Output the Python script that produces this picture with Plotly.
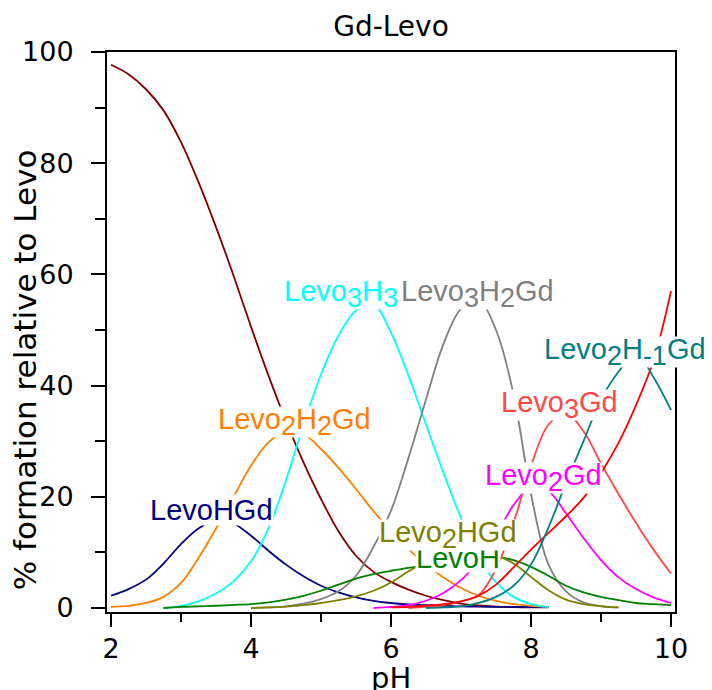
import plotly.graph_objects as go

N = None
ph = [2.0, 2.25, 2.5, 2.75, 3.0, 3.25, 3.5, 3.75, 4.0, 4.25, 4.5, 4.75, 5.0, 5.25, 5.5, 5.75,
      6.0, 6.25, 6.5, 6.75, 7.0, 7.25, 7.5, 7.75, 8.0, 8.25, 8.5, 8.75, 9.0, 9.25, 9.5, 9.75, 10.0]

levo_free = [97.7, 96.0, 93.3, 89.5, 83.8, 76.6, 68.5, 59.8, 50.6, 41.8, 33.6, 26.2, 19.6, 13.8, 9.4, 6.5,
             4.7, 3.3, 2.2, 1.4, 0.8, 0.45, 0.25, 0.15, 0.1, 0.1, N, N, N, N, N, N, N]
levo_hgd = [2.2, 3.4, 5.1, 8.0, 11.5, 14.3, 15.8, 15.2, 13.0, 10.3, 7.8, 5.7, 4.0, 2.8, 1.9, 1.3,
            0.9, 0.65, 0.5, 0.4, 0.3, 0.25, 0.2, 0.2, 0.15, 0.15, N, N, N, N, N, N, N]
levo2h2gd = [0.2, 0.4, 0.9, 2.0, 4.5, 9.0, 14.3, 20.0, 25.6, 29.8, 31.7, 31.3, 28.6, 25.2, 21.4, 17.4,
             13.8, 10.6, 7.8, 5.5, 3.6, 2.2, 1.3, 0.7, 0.4, 0.2, N, N, N, N, N, N, N]
levo3h3 = [N, N, N, 0.0, 0.4, 1.2, 2.6, 4.8, 8.4, 14.3, 23.0, 33.0, 42.0, 49.0, 53.5, 54.6,
           49.5, 41.8, 33.0, 24.3, 16.2, 9.3, 4.6, 2.0, 0.7, 0.2, N, N, N, N, N, N, N]
levo3h2gd = [N, N, N, N, N, N, N, N, 0.0, 0.1, 0.3, 0.8, 1.6, 3.0, 5.8, 11.0,
             17.5, 27.0, 37.5, 47.5, 53.8, 55.3, 50.0, 38.5, 20.5, 7.8, 3.0, 1.0, 0.3, 0.1, N, N, N]
levoh = [N, N, N, 0.0, 0.2, 0.3, 0.4, 0.55, 0.7, 1.0, 1.5, 2.2, 3.1, 4.2, 5.3, 6.1,
         6.7, 7.2, 7.8, 8.3, 8.7, 9.0, 9.2, 8.6, 7.4, 5.8, 4.0, 2.8, 2.0, 1.4, 0.9, 0.7, 0.5]
levo2hgd = [N, N, N, N, N, N, N, N, 0.0, 0.1, 0.25, 0.5, 0.9, 1.4, 2.1, 3.1,
            4.6, 6.6, 8.3, 9.3, 9.7, 9.8, 9.4, 8.0, 5.6, 3.2, 1.5, 0.7, 0.35, 0.1, N, N, N]
levo2gd = [N, N, N, N, N, N, N, N, N, N, N, N, N, N, N, 0.0,
           0.2, 0.5, 1.3, 2.7, 5.0, 8.5, 13.0, 18.5, 21.8, 21.0, 17.0, 12.6, 8.6, 5.5, 3.4, 1.9, 0.9]
levo3gd = [N, N, N, N, N, N, N, N, N, N, N, N, N, N, N, N,
           N, 0.0, 0.2, 0.5, 1.2, 2.3, 7.0, 15.3, 25.5, 33.0, 35.0, 31.8, 26.0, 20.5, 15.3, 10.5, 6.2]
gd_oh = [N, N, N, N, N, N, N, N, N, N, N, N, N, N, N, N,
         0.1, 0.2, 0.4, 0.7, 1.2, 2.2, 4.2, 7.3, 10.5, 13.5, 16.5, 19.8, 24.3, 29.7, 36.5, 44.5, 57.0]
levo2hm1gd = [N, N, N, N, N, N, N, N, N, N, N, N, N, N, N, N,
              N, N, 0.0, 0.1, 0.3, 0.9, 2.0, 4.0, 7.8, 14.5, 22.5, 30.0, 37.5, 42.5, 45.8, 41.5, 35.6]

series = [
    (levo_free, "#800000"),
    (levo_hgd, "#000080"),
    (levo2h2gd, "#FF8000"),
    (levo3h3, "#00FFFF"),
    (levo3h2gd, "#808080"),
    (levoh, "#008000"),
    (levo2hgd, "#808000"),
    (levo2gd, "#FF00FF"),
    (levo3gd, "#FF4848"),
    (gd_oh, "#FF0000"),
    (levo2hm1gd, "#008080"),
]

SUBSZ = 27


def sub(s):
    return '<sub><span style="font-size:%dpx">%s</span></sub>' % (SUBSZ, s)


# text, x (pH), y (%), colour, box height
labels = [
    ("LevoHGd", 3.43, 17.7, "#000080", 30),
    ("Levo" + sub("2") + "H" + sub("2") + "Gd", 4.62, 33.5, "#FF8000", 30),
    ("Levo" + sub("3") + "H" + sub("3"), 5.29, 56.4, "#00FFFF", 30),
    ("Levo" + sub("3") + "H" + sub("2") + "Gd", 7.24, 56.4, "#808080", 30),
    ("Levo" + sub("2") + "H" + sub("-1") + "Gd", 9.34, 46.0, "#008080", 30),
    ("Levo" + sub("3") + "Gd", 8.40, 36.5, "#FF4848", 30),
    ("Levo" + sub("2") + "Gd", 8.18, 23.3, "#FF00FF", 30),
    ("LevoH", 6.96, 9.0, "#008000", 28),
    ("Levo" + sub("2") + "HGd", 6.81, 13.2, "#808000", 30),
]

fig = go.Figure()
for vals, col in series:
    fig.add_trace(go.Scatter(x=ph, y=vals, mode="lines",
                             line=dict(color=col, width=1.8, shape="spline", smoothing=1.0),
                             connectgaps=False, showlegend=False, hoverinfo="skip"))

for txt, x, y, col, h in labels:
    fig.add_annotation(x=x, y=y, xref="x", yref="y", text=txt, showarrow=False,
                       font=dict(family="Liberation Sans, Arial, sans-serif", size=29, color=col),
                       bgcolor="white", borderpad=0, height=h, valign="middle",
                       xanchor="center", yanchor="middle")

axis_font = dict(family="DejaVu Sans, sans-serif", size=27, color="black")

fig.add_annotation(text="% formation relative to Levo", xref="paper", yref="paper",
                   x=-0.144, y=0.432, textangle=-90, showarrow=False,
                   font=dict(family="DejaVu Sans, sans-serif", size=31, color="black"),
                   xanchor="center", yanchor="middle")
fig.add_annotation(text="pH", xref="paper", yref="paper",
                   x=0.5, y=-0.118, showarrow=False,
                   font=dict(family="DejaVu Sans, sans-serif", size=29, color="black"),
                   xanchor="center", yanchor="middle")

fig.update_layout(
    width=712, height=690,
    margin=dict(l=99, r=45, t=44, b=86),
    paper_bgcolor="white", plot_bgcolor="white",
    title=dict(text="Gd-Levo", x=0.5, xref="paper", xanchor="center",
               y=1 - 18 / 690, yanchor="middle",
               font=dict(family="DejaVu Sans, sans-serif", size=28, color="black")),
    xaxis=dict(range=[1.943, 10.057], tickvals=[2, 4, 6, 8, 10], ticks="outside",
               ticklen=13, tickwidth=2, tickcolor="black", showline=True, linewidth=2,
               linecolor="black", mirror=True, showgrid=False, zeroline=False,
               tickfont=axis_font, ticklabelstandoff=-1,
               minor=dict(tickvals=[3, 5, 7, 9], ticks="outside", ticklen=8, tickwidth=2,
                          tickcolor="black", showgrid=False)),
    yaxis=dict(range=[-0.72, 100], tickvals=[0, 20, 40, 60, 80, 100], ticks="outside",
               ticklen=14, tickwidth=2, tickcolor="black", showline=True, linewidth=2,
               linecolor="black", mirror=True, showgrid=False, zeroline=False,
               tickfont=axis_font, ticklabelstandoff=12,
               minor=dict(tickvals=[10, 30, 50, 70, 90], ticks="outside", ticklen=10, tickwidth=2,
                          tickcolor="black", showgrid=False)),
)

fig.write_html("out.html")
